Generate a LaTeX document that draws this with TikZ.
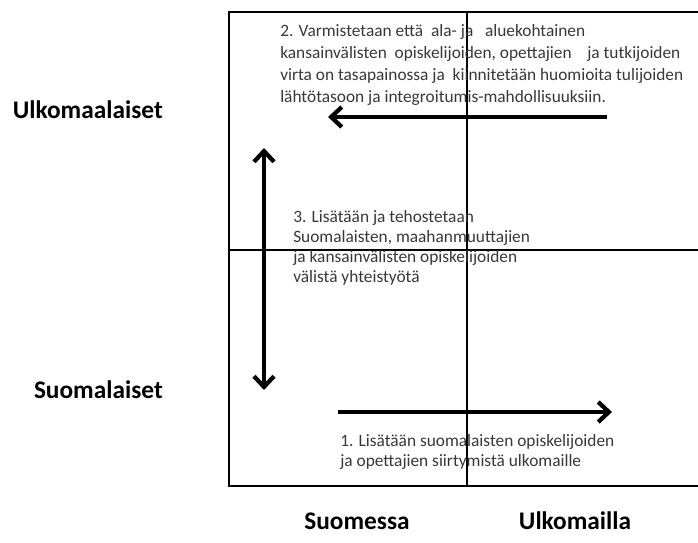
\documentclass[tikz,border=0pt]{standalone}
\usepackage{fontspec}
\setmainfont{Carlito}
\usetikzlibrary{arrows.meta}
\begin{document}
\begin{tikzpicture}[x=0.75pt,y=-0.75pt,
		frame/.style={line width=2pt},
		flow/.style={line width=3.2pt,-{Straight Barb[length=8pt,width=15pt]}},
		axislabel/.style={font=\fontsize{19}{23}\selectfont\bfseries,inner sep=0pt},
		note/.style={font=\fontsize{13}{15}\selectfont,text=black!78,align=left,anchor=north west,inner sep=0pt}]
		\useasboundingbox (0,0) rectangle (698,542);
		
		\coordinate (tr) at (698,12);
		\coordinate (tl) at (229,12);
		\coordinate (bl) at (229,486);
		\coordinate (br) at (698,486);
		\coordinate (mt) at (467,12);
		\coordinate (mb) at (467,486);
		\coordinate (ml) at (229,250);
		\coordinate (mr) at (698,250);
		
		\draw[frame] (tr) -- (tl) -- (bl) -- (br);
		\draw[frame] (mt) -- (mb);
		\draw[frame] (ml) -- (mr);
		
		\node[axislabel,anchor=east] (ulko) at (163,110) {Ulkomaalaiset};
		\node[axislabel,anchor=east] (suom) at (163,390) {Suomalaiset};
		\node[axislabel] (suomessa) at (357,521) {Suomessa};
		\node[axislabel] (ulkomailla) at (575,521) {Ulkomailla};
		
		\node[note,font=\fontsize{13}{16.5}\selectfont] (n2) at (280,24) {2. Varmistetaan että\ \ ala- ja\ \ \ aluekohtainen\\kansainvälisten\ \ opiskelijoiden, opettajien\ \ \ \ ja tutkijoiden\\virta on tasapainossa ja\ \ kiinnitetään huomioita tulijoiden\\lähtötasoon ja integroitumis-mahdollisuuksiin.};
		\node[note] (n3) at (293,210) {3. Lisätään ja tehostetaan\\Suomalaisten, maahanmuuttajien\\ja kansainvälisten opiskelijoiden\\välistä yhteistyötä};
		\node[note] (n1) at (340,434) {1. Lisätään suomalaisten opiskelijoiden\\ja opettajien siirtymistä ulkomaille};
		
		\coordinate (a2s) at (607,117);
		\coordinate (a2e) at (328,117);
		\coordinate (a1s) at (338,412);
		\coordinate (a1e) at (612,412);
		\coordinate (a3t) at (264,148);
		\coordinate (a3b) at (264,390);
		
		\draw[flow] (a2s) -- (a2e);
		\draw[flow] (a1s) -- (a1e);
		\draw[flow,{Straight Barb[length=8pt,width=15pt]}-{Straight Barb[length=8pt,width=15pt]}] (a3t) -- (a3b);
\end{tikzpicture}
\end{document}
